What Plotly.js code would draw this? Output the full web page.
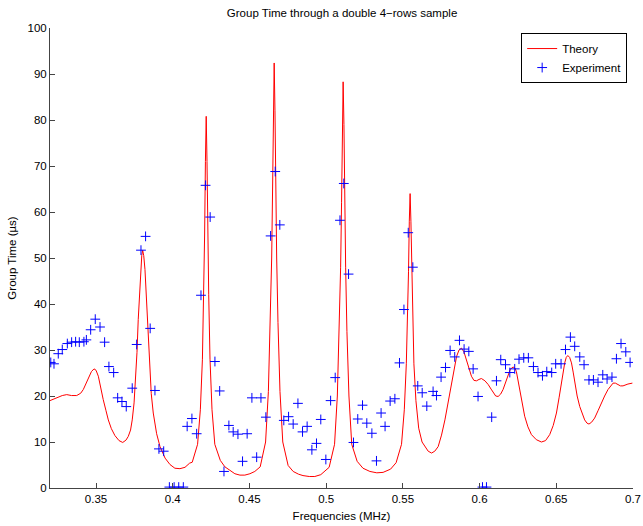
<!DOCTYPE html>
<html>
<head>
<meta charset="utf-8">
<script src="https://cdn.plot.ly/plotly-3.0.1.min.js"></script>
<style>
html,body{margin:0;padding:0;background:#fff;}
#chart{width:643px;height:526px;}
</style>
</head>
<body>
<div id="chart"></div>
<script>
// Theory curve
var theoryX = [
0.3200,0.3230,0.3254,0.3280,0.3309,0.3340,0.3374,0.3400,0.3417,0.3435,0.3450,0.3470,0.3487,0.3500,0.3515,0.3530,0.3547,0.3565,0.3580,0.3600,
0.3623,0.3650,0.3674,0.3695,0.3710,0.3725,0.3736,0.3748,0.3758,0.3767,0.3775,0.3784,0.3791,0.3798,0.3804,0.3811,0.3819,0.3826,0.3834,0.3842,
0.3850,0.3860,0.3873,0.3895,0.3917,0.3950,0.3982,0.4014,0.4047,0.4080,0.4110,0.4127,0.4162,0.4180,0.41935,0.42019,0.42078,0.4213,0.42182,0.42234,
0.42286,0.42345,0.42429,0.4256,0.42742,0.4310,0.4340,0.4373,0.4405,0.4438,0.4470,0.4503,0.4535,0.4570,0.46052,0.46234,0.46365,0.46449,0.46508,0.4656,
0.46612,0.46664,0.46716,0.46775,0.46859,0.4699,0.47172,0.4752,0.4785,0.4820,0.4849,0.4890,0.4926,0.4965,0.50195,0.50547,0.50729,0.5086,0.50944,0.51003,
0.51055,0.51107,0.51159,0.51211,0.5127,0.51354,0.51485,0.51667,0.5202,0.5240,0.5285,0.5330,0.5371,0.5420,0.5456,0.54912,0.55094,0.55225,0.55309,0.55368,
0.5542,0.55472,0.55524,0.55576,0.55635,0.55719,0.5585,0.56032,0.5625,0.5643,0.5665,0.5687,0.5708,0.5730,0.5752,0.5774,0.5795,0.5817,0.5835,0.5850,
0.5866,0.5882,0.5898,0.5915,0.5930,0.5947,0.5963,0.5980,0.5996,0.6012,0.6035,0.6056,0.6075,0.6092,0.6105,0.6121,0.6137,0.6153,0.6170,0.6186,
0.6200,0.6218,0.6230,0.6240,0.6250,0.6262,0.6278,0.6294,0.6315,0.6338,0.6370,0.6403,0.6430,0.6457,0.6480,0.6501,0.6518,0.6533,0.6545,0.6555,
0.6565,0.6575,0.6587,0.6599,0.6610,0.6620,0.6636,0.6653,0.6670,0.6685,0.6700,0.6713,0.6730,0.6750,0.6772,0.6794,0.6815,0.6837,0.6855,0.6870,
0.6885,0.6902,0.6918,0.6935,0.6950,0.6967,0.6996
];
var theoryY = [
19.0,19.4,19.7,20.1,20.3,20.1,20.1,20.6,21.4,22.7,23.9,25.3,25.9,25.6,24.3,21.8,19.2,16.8,14.8,12.9,
11.4,10.3,9.9,10.4,11.2,12.6,14.8,18.5,23.5,29.5,36.6,42.5,47.5,50.5,51.7,50.5,47.5,42.5,36.6,30.5,
25.7,20.5,16.3,11.8,9.0,6.5,5.1,4.3,4.2,4.5,5.4,5.6,9.5,17,28,42,55,71,80.8,71,
55,42,28,17,9.5,6.0,4.6,3.8,3.1,2.8,2.8,3.1,3.6,4.6,10,21,36,50,65,82,
92.4,82,65,50,36,21,10,4.9,3.6,3.0,2.7,2.5,2.5,2.9,4.5,9.5,20,34,48,62,
79,88.3,79,62,48,34,20,9.5,5.8,4.3,3.6,3.3,3.4,4.1,5.5,9.5,17,27,37,47,
58,64,58,47,37,27,19,13,10,9.0,8.0,7.6,8.0,9.0,11.5,14.8,18.8,22.8,26.2,28.6,
30.0,30.4,29.6,27.9,26.0,24.3,23.4,23.3,23.6,23.8,23.3,22.5,21.5,20.5,20.0,19.9,20.4,21.4,23.0,24.6,
25.8,26.3,26.1,25.3,23.6,21.4,18.5,15.6,13.3,11.6,10.5,10.0,10.3,11.6,13.6,16.3,19.6,22.8,25.3,27.2,
28.4,28.8,28.4,27.2,25.2,22.8,20.0,17.7,16.0,14.8,14.1,13.9,14.3,15.2,16.8,18.5,20.0,21.4,22.3,22.8,
22.8,22.5,22.2,22.2,22.4,22.6,22.8
];

// Experiment points
var expX = [
0.3205,0.3226,0.3254,0.3280,0.3313,0.3341,0.3367,0.3391,0.3421,0.3437,0.3465,0.3495,0.3526,0.3556,0.3584,0.3615,0.3641,0.3669,0.3697,0.3736,
0.3765,0.3793,0.3823,0.3853,0.3884,0.3910,0.3941,0.3978,0.4009,0.4039,0.4069,0.4094,0.4125,0.4156,0.4184,0.4214,0.4244,0.4275,0.4306,0.4334,
0.4366,0.4394,0.4425,0.4455,0.4485,0.4516,0.4547,0.4575,0.4607,0.4638,0.4668,0.4698,0.4724,0.4755,0.4785,0.4816,0.4846,0.4876,0.4907,0.4937,
0.4965,0.4998,0.5029,0.5059,0.5090,0.5115,0.5146,0.5178,0.5206,0.5237,0.5265,0.5298,0.5328,0.5358,0.5384,0.5417,0.5448,0.5478,0.5507,0.5535,
0.5565,0.5597,0.5626,0.5656,0.5697,0.5719,0.5749,0.5778,0.5808,0.5838,0.5869,0.5899,0.5930,0.5958,0.5990,0.6019,0.6045,0.6079,0.6110,0.6138,
0.6169,0.6197,0.6229,0.6257,0.6288,0.6318,0.6351,0.6381,0.6410,0.6438,0.6470,0.6496,0.6531,0.6560,0.6592,0.6620,0.6653,0.6681,0.6713,0.6742,
0.6772,0.6803,0.6831,0.6863,0.6892,0.6922,0.6953,0.6981
];
var expY = [
27.3,27.0,29.2,30.1,31.4,31.7,31.8,31.7,31.8,32.2,34.4,36.7,35.0,31.7,26.4,25.1,19.6,18.8,17.7,21.7,
31.2,51.7,54.7,34.7,21.2,8.5,8.0,0.2,0.2,0.2,0.2,13.4,15.1,11.8,41.9,65.8,58.9,27.5,21.1,3.6,
13.6,12.2,11.7,5.8,11.8,19.6,6.7,19.6,15.4,54.8,68.8,57.2,14.7,15.5,13.9,18.4,12.2,13.4,8.3,9.7,
14.9,6.2,19.0,24.0,58.2,66.2,46.5,9.9,15.0,18.0,14.1,11.9,5.9,16.3,13.4,18.9,19.4,27.2,38.8,55.5,
48.0,22.2,20.7,17.8,21.0,20.1,24.1,26.2,29.9,28.5,32.1,30.2,29.7,25.9,19.9,0.2,0.2,15.4,23.3,27.9,
26.8,25.1,25.9,28.0,28.3,28.3,26.4,25.1,24.4,25.3,25.1,27.0,27.0,30.1,32.8,30.8,28.5,26.8,23.5,23.5,
23.0,24.6,23.7,24.1,28.1,31.4,29.6,27.3
];

var xTickVals = [0.35,0.4,0.45,0.5,0.55,0.6,0.65,0.7];
var xTickText = ["0.35","0.4","0.45","0.5","0.55","0.6","0.65","0.7"];
var yTickVals = [0,10,20,30,40,50,60,70,80,90,100];

var font = "Liberation Sans, Arial, Helvetica, sans-serif";

var traces = [
  {x: theoryX, y: theoryY, type: "scatter", mode: "lines", name: "Theory",
   line: {color: "#ff0000", width: 1}},
  {x: expX, y: expY, type: "scatter", mode: "markers", name: "Experiment",
   marker: {symbol: "cross-thin", size: 7, color: "#0000ff", line: {color: "#0000ff", width: 1}}}
];

var layout = {
  width: 643, height: 526,
  margin: {l: 50, r: 10, t: 28, b: 38},
  paper_bgcolor: "#ffffff", plot_bgcolor: "#ffffff",
  font: {family: font, size: 11.5, color: "#000"},
  title: {text: "Group Time through a double 4\u2212rows sample", font: {family: font, size: 11.5, color: "#000"},
          x: 0.532, xanchor: "center", y: 0.976, yanchor: "middle"},
  xaxis: {range: [0.32, 0.7], tickmode: "array", tickvals: xTickVals, ticktext: xTickText,
          ticks: "inside", ticklen: 5, tickcolor: "#444", showline: true, linecolor: "#444", linewidth: 1,
          showgrid: false, zeroline: false, mirror: false,
          title: {text: "Frequencies (MHz)", font: {family: font, size: 11.5}, standoff: 8}},
  yaxis: {range: [0, 100], tickmode: "array", tickvals: yTickVals,
          ticks: "inside", ticklen: 5, tickcolor: "#444", showline: true, linecolor: "#444", linewidth: 1,
          showgrid: false, zeroline: false, mirror: false,
          title: {text: "Group Time (\u00b5s)", font: {family: font, size: 11.5}, standoff: 8}},
  showlegend: true,
  legend: {x: 0.99, y: 0.989, xanchor: "right", yanchor: "top", bgcolor: "#ffffff",
           bordercolor: "#000", borderwidth: 1, font: {family: font, size: 11.5}, itemwidth: 30,
           tracegroupgap: 0}
};

Plotly.newPlot("chart", traces, layout, {displayModeBar: false, staticPlot: true});
</script>
</body>
</html>
